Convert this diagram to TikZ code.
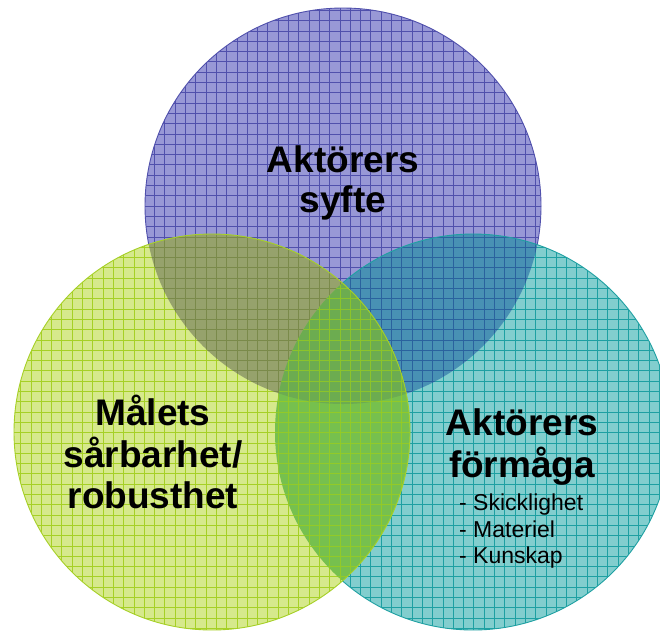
\documentclass[tikz,border=0pt]{standalone}
\usepackage{fontspec}
\setmainfont{Liberation Sans}
% single-circle colours
\definecolor{purplefill}{RGB}{152,152,214}
\definecolor{purpleline}{RGB}{80,80,172}
\definecolor{greenfill}{RGB}{214,233,140}
\definecolor{greenline}{RGB}{166,208,38}
\definecolor{tealfill}{RGB}{130,206,206}
\definecolor{tealline}{RGB}{30,160,162}
% overlap colours
\definecolor{pgfill}{RGB}{150,162,108}
\definecolor{pgline}{RGB}{122,138,74}
\definecolor{ptfill}{RGB}{72,145,180}
\definecolor{ptline}{RGB}{42,98,158}
\definecolor{gtfill}{RGB}{118,192,78}
\definecolor{gtline}{RGB}{146,202,40}
\definecolor{pgtfill}{RGB}{108,172,80}
\definecolor{pgtline}{RGB}{140,196,42}
\tikzset{
  gridlines/.style={line width=0.7pt, step=10.3pt},
  rim/.style={line width=0.9pt},
  bigtext/.style={font=\fontsize{37}{40}\selectfont\bfseries, anchor=base, inner sep=0pt},
  smalltext/.style={font=\fontsize{23}{26}\selectfont, anchor=base west, inner sep=0pt},
}
% paint a clipped region: #1 clip commands, #2 fill colour, #3 grid colour
\newcommand{\paintregion}[3]{%
  \begin{scope}
    #1
    \fill[#2] (0,0) rectangle (660,630);
    \draw[#3, gridlines] (0,0) grid (660,630);
  \end{scope}}
\begin{document}
\begin{tikzpicture}[x=1pt,y=-1pt]
  \fill[white] (0,0) rectangle (660,630);
  \useasboundingbox (0,0) rectangle (660,630);
  \coordinate (cP) at (343,206);
  \coordinate (cT) at (473,432);
  \coordinate (cG) at (212,432);

  % purple circle (bottom layer)
  \paintregion{\clip (cP) circle (198);}{purplefill}{purpleline}
  \draw[purpleline, rim] (cP) circle (198);

  % teal circle (middle layer)
  \paintregion{\clip (cT) circle (198);}{tealfill}{tealline}
  \paintregion{\clip (cP) circle (198); \clip (cT) circle (198);}{ptfill}{ptline}
  \draw[tealline, rim] (cT) circle (198);

  % green circle (top layer)
  \paintregion{\clip (cG) circle (198);}{greenfill}{greenline}
  \paintregion{\clip (cP) circle (198); \clip (cG) circle (198);}{pgfill}{pgline}
  \paintregion{\clip (cT) circle (198); \clip (cG) circle (198);}{gtfill}{gtline}
  \paintregion{\clip (cP) circle (198); \clip (cT) circle (198); \clip (cG) circle (198);}{pgtfill}{pgtline}
  \draw[greenline, rim] (cG) circle (198);

  \node[bigtext] (syfteA) at (343,172) {Aktörers};
  \node[bigtext] (syfteB) at (343,212) {syfte};

  \node[bigtext] (malA) at (153,425) {Målets};
  \node[bigtext] (malB) at (153,467) {sårbarhet/};
  \node[bigtext] (malC) at (153,508) {robusthet};

  \node[bigtext] (formA) at (522,435) {Aktörers};
  \node[bigtext] (formB) at (522,477) {förmåga};
  \node[smalltext] (item1) at (459,510) {- Skicklighet};
  \node[smalltext] (item2) at (459,537) {- Materiel};
  \node[smalltext] (item3) at (459,563) {- Kunskap};
\end{tikzpicture}
\end{document}
